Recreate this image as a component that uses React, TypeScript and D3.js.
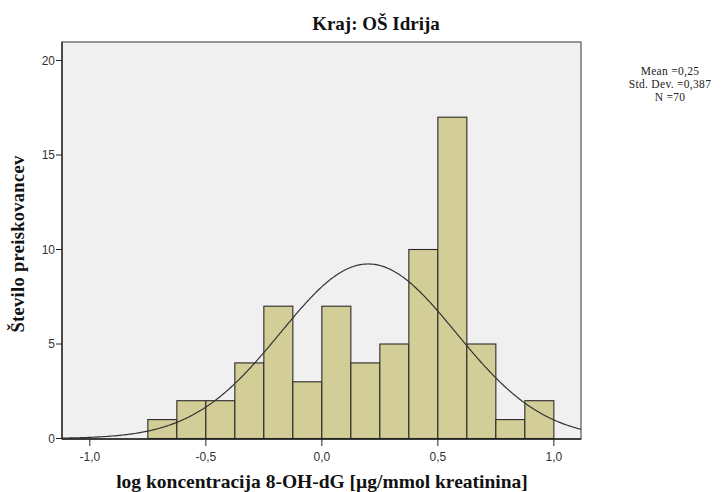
import React from "react";
import * as d3 from "d3";

const binStarts = [-0.75, -0.625, -0.5, -0.375, -0.25, -0.125, 0, 0.125, 0.25, 0.375, 0.5, 0.625, 0.75, 0.875];
const binCounts = [1, 2, 2, 4, 7, 3, 7, 4, 5, 10, 17, 5, 1, 2];
const binWidth = 0.125;
const xTicks = [-1, -0.5, 0, 0.5, 1];
const yTicks = [0, 5, 10, 15, 20];
const statLines = ["Mean =0,25", "Std. Dev. =0,387", "N =70"];
const nTotal = 70;
const curveMean = 0.2;
const curveSd = 0.378;

const W = 724, H = 492;
const left = 62, right = 581, top = 42, bottom = 439;

export default function App() {
  const x = d3.scaleLinear().domain([-1.12, 1.117]).range([left, right]);
  const y = d3.scaleLinear().domain([0, 20]).range([438.5, 60.5]);
  const fmt = (v: number) => v.toFixed(1).replace(".", ",");

  const pts = d3.range(0, 401).map(i => {
    const xv = -1.12 + (2.237 * i) / 400;
    const dens = (nTotal * binWidth) / (curveSd * Math.sqrt(2 * Math.PI)) * Math.exp(-0.5 * ((xv - curveMean) / curveSd) ** 2);
    return [xv, dens] as [number, number];
  });
  const line = d3.line<[number, number]>().x(d => x(d[0])).y(d => y(d[1]));
  const serif = "Liberation Serif, Times New Roman, serif";

  return (
    <svg width={W} height={H} style={{ position: "absolute", left: 0, top: 0, background: "#fff" }}>
      <rect x={left} y={top} width={right - left} height={bottom - top} fill="#f0f0f0" stroke="#555" strokeWidth={1.2} />
      {binStarts.map((b, i) => (
        <rect key={i} x={x(b)} y={y(binCounts[i])} width={x(b + binWidth) - x(b)} height={y(0) - y(binCounts[i])}
          fill="#d3ce97" stroke="#2a2a2a" strokeWidth={1.1} />
      ))}
      <path d={line(pts) || ""} fill="none" stroke="#333" strokeWidth={1.2} />
      <line x1={left} x2={left} y1={top} y2={bottom} stroke="#222" strokeWidth={1.3} />
      <line x1={left} x2={right} y1={bottom} y2={bottom} stroke="#222" strokeWidth={1.3} />
      {yTicks.map(t => (
        <g key={t}>
          <line x1={left - 6} x2={left} y1={y(t)} y2={y(t)} stroke="#222" strokeWidth={1} />
          <text x={left - 7} y={y(t) + 4} textAnchor="end" fontFamily="Liberation Sans, Arial, sans-serif" fontSize={12} fill="#333">{t}</text>
        </g>
      ))}
      {xTicks.map(t => (
        <g key={t}>
          <line x1={x(t)} x2={x(t)} y1={bottom} y2={bottom + 7} stroke="#222" strokeWidth={1} />
          <text x={x(t)} y={bottom + 22} textAnchor="middle" fontFamily="Liberation Sans, Arial, sans-serif" fontSize={12} fill="#333">{fmt(t)}</text>
        </g>
      ))}
      <text x={376} y={30} textAnchor="middle" fontFamily={serif} fontWeight="bold" fontSize={19} fill="#111">Kraj: OŠ Idrija</text>
      <text x={322} y={488} textAnchor="middle" fontFamily={serif} fontWeight="bold" fontSize={19.5} fill="#111">log koncentracija 8-OH-dG [µg/mmol kreatinina]</text>
      <text transform={`translate(24,244) rotate(-90)`} textAnchor="middle" fontFamily={serif} fontWeight="bold" fontSize={18.5} letterSpacing={0.3} fill="#111">Število preiskovancev</text>
      {statLines.map((s, i) => (
        <text key={i} x={670} y={75 + i * 13} textAnchor="middle" fontFamily={serif} fontSize={11.5} letterSpacing={0.3} fill="#222">{s}</text>
      ))}
    </svg>
  );
}
